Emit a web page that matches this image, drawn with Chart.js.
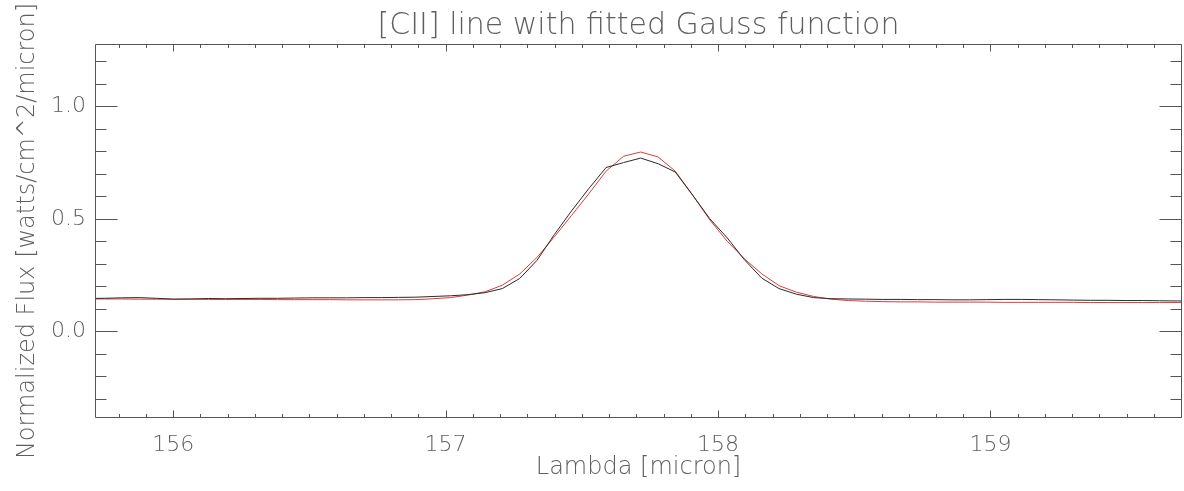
<!DOCTYPE html>
<html>
<head>
<meta charset="utf-8">
<script src="https://cdn.jsdelivr.net/npm/chart.js@4.4.1/dist/chart.umd.min.js"></script>
<style>
  html, body { margin: 0; padding: 0; background: #fff; }
  #wrap { width: 1184px; height: 491px; }
</style>
</head>
<body>
<div id="wrap"><canvas id="c" width="1184" height="491"></canvas></div>
<script>
// Wavelength grid (micron)
const lambda = [155.684, 155.748, 155.811, 155.875, 155.938, 156.002, 156.065, 156.129, 156.192, 156.256,
  156.319, 156.383, 156.446, 156.510, 156.573, 156.637, 156.700, 156.764, 156.827, 156.891,
  156.954, 157.018, 157.081, 157.145, 157.208, 157.272, 157.335, 157.399, 157.462, 157.526,
  157.589, 157.653, 157.716, 157.780, 157.843, 157.907, 157.970, 158.034, 158.097, 158.161,
  158.224, 158.288, 158.351, 158.415, 158.478, 158.542, 158.605, 158.669, 158.732, 158.796,
  158.859, 158.923, 158.986, 159.050, 159.113, 159.177, 159.240, 159.304, 159.367, 159.431,
  159.494, 159.558, 159.621, 159.685, 159.748];

// Observed normalized flux (black)
const observed = [0.146, 0.147, 0.149, 0.150, 0.147, 0.143, 0.144, 0.146, 0.145, 0.146,
  0.147, 0.147, 0.148, 0.149, 0.149, 0.149, 0.150, 0.150, 0.151, 0.152,
  0.155, 0.158, 0.163, 0.172, 0.190, 0.235, 0.315, 0.430, 0.535, 0.635,
  0.728, 0.750, 0.770, 0.745, 0.708, 0.605, 0.500, 0.415, 0.318, 0.236,
  0.190, 0.165, 0.150, 0.145, 0.144, 0.143, 0.142, 0.142, 0.141, 0.141,
  0.140, 0.140, 0.141, 0.142, 0.142, 0.141, 0.140, 0.139, 0.138, 0.138,
  0.137, 0.137, 0.136, 0.135, 0.135];

// Fitted Gauss function (red)
const fitted = [0.144, 0.144, 0.144, 0.143, 0.143, 0.143, 0.143, 0.142, 0.142, 0.142,
  0.142, 0.141, 0.141, 0.141, 0.141, 0.140, 0.140, 0.140, 0.140, 0.141,
  0.145, 0.150, 0.161, 0.176, 0.205, 0.255, 0.328, 0.420, 0.515, 0.612,
  0.712, 0.778, 0.797, 0.775, 0.712, 0.605, 0.495, 0.400, 0.322, 0.255,
  0.203, 0.174, 0.155, 0.143, 0.137, 0.134, 0.132, 0.131, 0.131, 0.130,
  0.130, 0.130, 0.130, 0.129, 0.129, 0.129, 0.129, 0.129, 0.128, 0.128,
  0.128, 0.128, 0.128, 0.128, 0.127];

const xLabels = ['156', '157', '158', '159'];
const yLabels = ['0.0', '0.5', '1.0'];

const titleText = '[CII] line with fitted Gauss function';
const xTitle = 'Lambda [micron]';
const yTitle = 'Normalized Flux [watts/cm^2/micron]';

const FONT = '"DejaVu Sans", sans-serif';
const WEIGHT = '200';
const TEXT = '#5e5e5e';
const AXIS = '#555555';

const frameTicks = {
  id: 'frameTicks',
  afterDatasetsDraw(chart) {
    const { ctx, chartArea: a, scales: { x, y } } = chart;
    const L = Math.round(a.left) + 0.5, R = Math.round(a.right) - 0.5;
    const T = Math.round(a.top) + 0.5, B = Math.round(a.bottom) - 0.5;
    ctx.save();
    ctx.strokeStyle = AXIS;
    ctx.lineWidth = 1;
    ctx.beginPath();
    ctx.rect(L, T, R - L, B - T);
    // x ticks every 0.1 micron
    for (let i = 1558; i <= 1597; i++) {
      const px = Math.round(x.getPixelForValue(i / 10)) + 0.5;
      const len = (i % 10 === 0) ? 7 : 3.5;
      ctx.moveTo(px, B); ctx.lineTo(px, B - len);
      ctx.moveTo(px, T); ctx.lineTo(px, T + len);
    }
    // y ticks every 0.1
    for (let i = -3; i <= 12; i++) {
      const py = Math.round(y.getPixelForValue(i / 10)) + 0.5;
      const len = (i % 5 === 0) ? 22 : 11;
      ctx.moveTo(L, py); ctx.lineTo(L + len, py);
      ctx.moveTo(R, py); ctx.lineTo(R - len, py);
    }
    ctx.stroke();
    ctx.restore();
  }
};

new Chart(document.getElementById('c'), {
  type: 'line',
  data: {
    datasets: [
      {
        label: 'Observed',
        data: lambda.map((l, i) => ({ x: l, y: observed[i] })),
        borderColor: '#2a2a2a',
        borderWidth: 1,
        pointRadius: 0,
        tension: 0,
        fill: false
      },
      {
        label: 'Gauss fit',
        data: lambda.map((l, i) => ({ x: l, y: fitted[i] })),
        borderColor: '#e03a3a',
        borderWidth: 1,
        pointRadius: 0,
        tension: 0,
        fill: false
      }
    ]
  },
  options: {
    responsive: false,
    animation: false,
    devicePixelRatio: 1,
    layout: { padding: { left: 0, right: 2, top: 0, bottom: 0 } },
    plugins: {
      legend: { display: false },
      tooltip: { enabled: false },
      title: {
        display: true,
        text: titleText,
        fullSize: false,
        color: TEXT,
        font: { family: FONT, size: 30, weight: WEIGHT, lineHeight: 1 },
        padding: { top: 11.5, bottom: 2.5 }
      }
    },
    scales: {
      x: {
        type: 'linear',
        min: 155.713,
        max: 159.703,
        grid: { display: false, drawTicks: false, tickLength: 0 },
        border: { display: false },
        ticks: {
          stepSize: 1,
          includeBounds: false,
          maxRotation: 0,
          autoSkip: false,
          color: TEXT,
          padding: 14,
          font: { family: FONT, size: 22, weight: WEIGHT },
          callback: (v) => xLabels.includes(String(v)) ? String(v) : ''
        },
        title: {
          display: true,
          text: xTitle,
          color: TEXT,
          font: { family: FONT, size: 24, weight: WEIGHT },
          padding: { top: 0, bottom: 8.6 }
        },
        afterFit: (s) => { s.height = 73; }
      },
      y: {
        min: -0.385,
        max: 1.277,
        grid: { display: false, drawTicks: false, tickLength: 0 },
        border: { display: false },
        ticks: {
          stepSize: 0.5,
          includeBounds: false,
          color: TEXT,
          padding: 9,
          font: { family: FONT, size: 22, weight: WEIGHT },
          callback: (v) => { const s = Number(v).toFixed(1); return yLabels.includes(s) ? s : ''; }
        },
        title: {
          display: true,
          text: yTitle,
          color: TEXT,
          font: { family: FONT, size: 24, weight: WEIGHT },
          padding: { top: 13.6, bottom: 0 }
        },
        afterFit: (s) => { s.width = 95; }
      }
    }
  },
  plugins: [frameTicks]
});
</script>
</body>
</html>
